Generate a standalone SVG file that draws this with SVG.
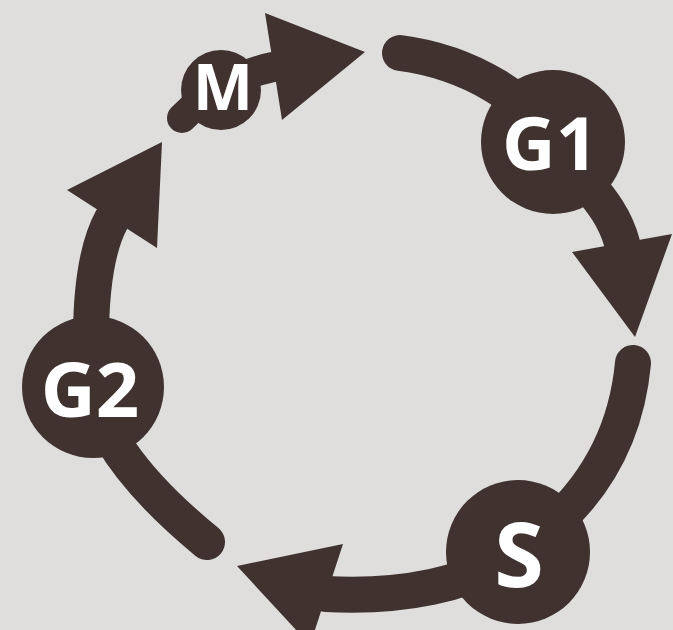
<svg xmlns="http://www.w3.org/2000/svg" width="673" height="630" viewBox="0 0 673 630">
<style>
.arc{fill:none;stroke:#40332f;stroke-width:36;stroke-linecap:round}
.head{fill:#40332f}
.node{fill:#40332f}
.lbl{fill:#ffffff;font-family:"Open Sans","DejaVu Sans",sans-serif;font-weight:bold;text-anchor:middle}
</style>
<rect width="673" height="630" fill="#dfdedc"/>
<g id="connectors">
<path class="arc" d="M400,53 C470,62 530,100 558,145 C585,185 612,205 622,243"/>
<polygon class="head" points="572,252 672,234 635,337"/>
<path class="arc" d="M633,363 C625,450 580,510 518,552 C470,585 400,598 326,594"/>
<polygon class="head" points="237,566 343,544 310,645"/>
<path class="arc" d="M207,542 C150,495 100,440 93,387 C88,320 92,255 112,219"/>
<polygon class="head" points="162,142 67,190 157,248"/>
<path class="arc" style="stroke-width:30" d="M182,118 C205,95 235,75 273,67"/>
<polygon class="head" points="265,13 365,52 282,120"/>
</g>
<g id="node-M"><circle class="node" cx="221" cy="90" r="40"/><text class="lbl" x="223" y="110" font-size="64">M</text></g>
<g id="node-G1"><circle class="node" cx="553" cy="142" r="72"/><text class="lbl" x="550" y="170" font-size="74">G1</text></g>
<g id="node-S"><circle class="node" cx="518" cy="552" r="72"/><text class="lbl" x="519" y="587" font-size="90">S</text></g>
<g id="node-G2"><circle class="node" cx="93" cy="387" r="71"/><text class="lbl" x="90" y="417" font-size="76">G2</text></g>
</svg>
